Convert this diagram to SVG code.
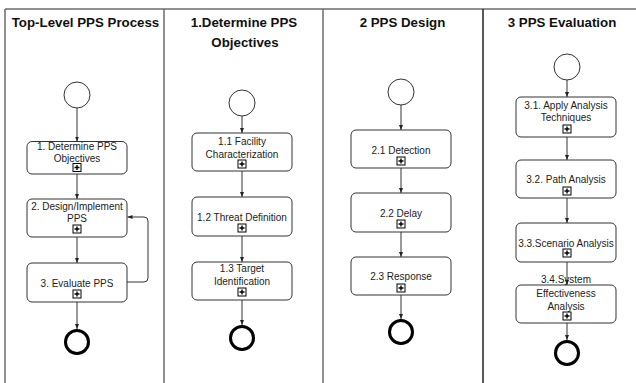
<svg xmlns="http://www.w3.org/2000/svg" width="636" height="383" viewBox="0 0 636 383">
<defs>
<style>
.hdr{font-family:"Liberation Sans",Arial,sans-serif;font-weight:bold;font-size:13.3px;fill:#111;text-anchor:middle}
.t{font-family:"Liberation Sans",Arial,sans-serif;font-size:10px;fill:#222;text-anchor:middle}
.box{fill:#fff;stroke:#333;stroke-width:1}
.start{fill:#fff;stroke:#333;stroke-width:1}
.end{fill:#fff;stroke:#000;stroke-width:3}
.frame{stroke:#6b6b6b;stroke-width:1.5;fill:none}
.con{stroke:#333;stroke-width:1;fill:none;marker-end:url(#ah)}
</style>
<marker id="ah" viewBox="0 0 10 10" refX="10" refY="5" markerWidth="5" markerHeight="5" orient="auto" markerUnits="userSpaceOnUse">
<path d="M0,1 L10,5 L0,9 z" fill="#222"/>
</marker>
<g id="plus">
<rect x="-4" y="-4" width="8" height="8" fill="#fff" stroke="#000" stroke-width="1"/>
<path d="M-2.5,0 H2.5 M0,-2.5 V2.5" stroke="#000" stroke-width="1.4"/>
</g>
</defs>

<g id="frame">
<line class="frame" x1="5" y1="9" x2="636" y2="9"/>
<line class="frame" x1="5" y1="9" x2="5" y2="383"/>
<line class="frame" x1="164" y1="9" x2="164" y2="383"/>
<line class="frame" x1="323" y1="9" x2="323" y2="383"/>
<line x1="483" y1="9" x2="483" y2="383" stroke="#222" stroke-width="1.5"/>
<text class="hdr" x="85.5" y="27">Top-Level PPS Process</text>
<text class="hdr" x="244" y="27">1.Determine PPS</text>
<text class="hdr" x="245" y="47">Objectives</text>
<text class="hdr" x="402.5" y="27">2 PPS Design</text>
<text class="hdr" x="562" y="27">3 PPS Evaluation</text>
</g>

<g id="connectors">
<line class="con" x1="77" y1="108" x2="77" y2="141.5"/>
<line class="con" x1="77" y1="174" x2="77" y2="199"/>
<line class="con" x1="77" y1="237" x2="77" y2="263"/>
<line class="con" x1="77" y1="302" x2="77" y2="329"/>
<path class="con" d="M127,282 H144 Q148,282 148,278 V221 Q148,217 144,217 H127.5"/>
<line class="con" x1="242" y1="116" x2="242" y2="133"/>
<line class="con" x1="242" y1="171" x2="242" y2="197"/>
<line class="con" x1="242" y1="236" x2="242" y2="262"/>
<line class="con" x1="242" y1="300" x2="242" y2="325"/>
<line class="con" x1="401" y1="105" x2="401" y2="130"/>
<line class="con" x1="401" y1="168" x2="401" y2="193"/>
<line class="con" x1="401" y1="232" x2="401" y2="257"/>
<line class="con" x1="401" y1="295" x2="401" y2="319"/>
<line class="con" x1="567" y1="80" x2="567" y2="97"/>
<line class="con" x1="567" y1="137" x2="567" y2="160"/>
<line class="con" x1="567" y1="198" x2="567" y2="223"/>
<line class="con" x1="567" y1="262" x2="567" y2="285"/>
<line class="con" x1="567" y1="323" x2="567" y2="340"/>
</g>

<g id="start0"><circle class="start" cx="77" cy="95" r="13"/></g>
<g id="task1">
<rect class="box" x="27" y="141.5" width="100" height="32.5" rx="5"/>
<text class="t" x="77" y="150">1. Determine PPS</text>
<text class="t" x="77" y="161.5">Objectives</text>
<use href="#plus" x="77" y="167.5"/>
</g>
<g id="task2">
<rect class="box" x="27" y="199" width="100" height="38" rx="5"/>
<text class="t" x="77" y="209.5">2. Design/Implement</text>
<text class="t" x="77" y="221.5">PPS</text>
<use href="#plus" x="77" y="229"/>
</g>
<g id="task3">
<rect class="box" x="27" y="263" width="100" height="39" rx="5"/>
<text class="t" x="77" y="286.5">3. Evaluate PPS</text>
<use href="#plus" x="77" y="294"/>
</g>
<g id="end0"><circle class="end" cx="77" cy="342" r="11.5"/></g>

<g id="start1"><circle class="start" cx="242" cy="103" r="13"/></g>
<g id="task11">
<rect class="box" x="192" y="133" width="100" height="38" rx="5"/>
<text class="t" x="242" y="144.5">1.1 Facility</text>
<text class="t" x="242" y="157.5">Characterization</text>
<use href="#plus" x="242" y="164"/>
</g>
<g id="task12">
<rect class="box" x="192" y="197" width="100" height="39" rx="5"/>
<text class="t" x="242" y="220.5">1.2 Threat Definition</text>
<use href="#plus" x="242" y="228"/>
</g>
<g id="task13">
<rect class="box" x="192" y="262" width="100" height="38" rx="5"/>
<text class="t" x="242" y="271.5">1.3 Target</text>
<text class="t" x="242" y="284.5">Identification</text>
<use href="#plus" x="242" y="292"/>
</g>
<g id="end1"><circle class="end" cx="242" cy="338" r="11.5"/></g>

<g id="start2"><circle class="start" cx="401" cy="92" r="13"/></g>
<g id="task21">
<rect class="box" x="351" y="130" width="100" height="38" rx="5"/>
<text class="t" x="401" y="153.5">2.1 Detection</text>
<use href="#plus" x="401" y="161"/>
</g>
<g id="task22">
<rect class="box" x="351" y="193" width="100" height="39" rx="5"/>
<text class="t" x="401" y="216.5">2.2 Delay</text>
<use href="#plus" x="401" y="224"/>
</g>
<g id="task23">
<rect class="box" x="351" y="257" width="100" height="38" rx="5"/>
<text class="t" x="401" y="279.5">2.3 Response</text>
<use href="#plus" x="401" y="288"/>
</g>
<g id="end2"><circle class="end" cx="401" cy="332" r="11.5"/></g>

<g id="start3"><circle class="start" cx="567" cy="67" r="13"/></g>
<g id="task31">
<rect class="box" x="516" y="97" width="100" height="40" rx="5"/>
<text class="t" x="566" y="108.5">3.1. Apply Analysis</text>
<text class="t" x="566" y="120.5">Techniques</text>
<use href="#plus" x="567" y="129"/>
</g>
<g id="task32">
<rect class="box" x="516" y="160" width="100" height="38" rx="5"/>
<text class="t" x="566" y="182.5">3.2. Path Analysis</text>
<use href="#plus" x="567" y="191"/>
</g>
<g id="task33">
<rect class="box" x="516" y="223" width="100" height="39" rx="5"/>
<text class="t" x="566" y="246.5">3.3.Scenario Analysis</text>
<use href="#plus" x="567" y="253"/>
</g>
<g id="task34">
<rect class="box" x="516" y="285" width="100" height="38" rx="5"/>
<text class="t" x="566" y="282.5">3.4.System</text>
<text class="t" x="566" y="296.5">Effectiveness</text>
<text class="t" x="566" y="309.5">Analysis</text>
<use href="#plus" x="567" y="316"/>
</g>
<g id="end3"><circle class="end" cx="567" cy="353" r="11.5"/></g>
</svg>
